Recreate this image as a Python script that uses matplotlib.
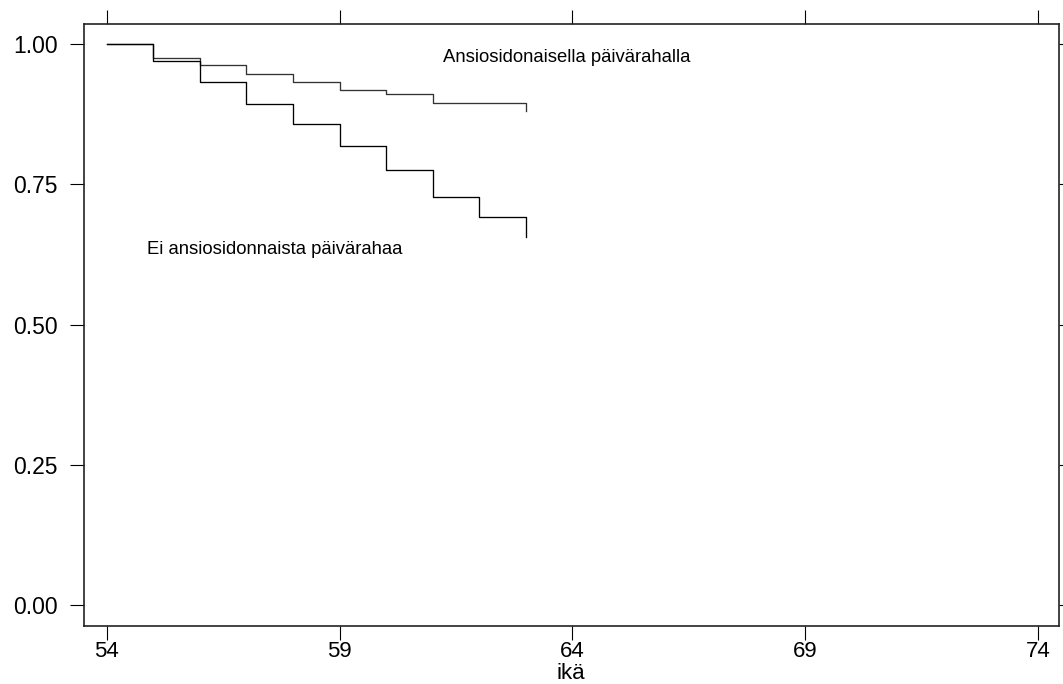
import numpy as np
import matplotlib
matplotlib.use("Agg")
import matplotlib.pyplot as plt

plt.rcParams['font.family'] = ['Liberation Sans', 'DejaVu Sans']

# survival estimates by age (step functions); value at 63 is the final drop
ika = [54, 55, 56, 57, 58, 59, 60, 61, 62, 63]
ansio = [1.000, 0.976, 0.963, 0.947, 0.933, 0.918, 0.912, 0.895, 0.895, 0.880]
ei_ansio = [1.000, 0.970, 0.933, 0.894, 0.857, 0.818, 0.776, 0.728, 0.691, 0.657]

xticks = [54, 59, 64, 69, 74]
yticks = [0.00, 0.25, 0.50, 0.75, 1.00]

fig = plt.figure(figsize=(10.63, 6.84), dpi=100)
ax = fig.add_axes([0.079, 0.0848, 0.9168, 0.8801])

ax.step(ika, ansio, where='post', color='#333333', lw=0.95)
ax.step(ika, ei_ansio, where='post', color='black', lw=0.95)

ax.text(61.22, 0.976, 'Ansiosidonaisella päivärahalla', fontsize=13.3, va='center')
ax.text(54.87, 0.634, 'Ei ansiosidonnaista päivärahaa', fontsize=13.3, va='center')

ax.set_xlim(53.51, 74.44)
ax.set_ylim(-0.0375, 1.036)
ax.set_xticks(xticks)
ax.set_yticks(yticks)
ax.set_yticklabels(['%.2f' % v for v in yticks])
ax.tick_params(direction='out', length=10, width=0.8, labelsize=16.5,
               top=True, right=True)
ax.tick_params(axis='x', labeltop=False, pad=0.5, labelsize=16)
ax.tick_params(axis='y', labelright=False, pad=9)
for s in ax.spines.values():
    s.set_linewidth(1.2)
    s.set_color('#222222')

# x-axis title sits at the very bottom edge
fig.text(0.537, 0.0073, 'ikä', fontsize=16, ha='center', va='baseline')

fig.savefig('out.png', dpi=100)
